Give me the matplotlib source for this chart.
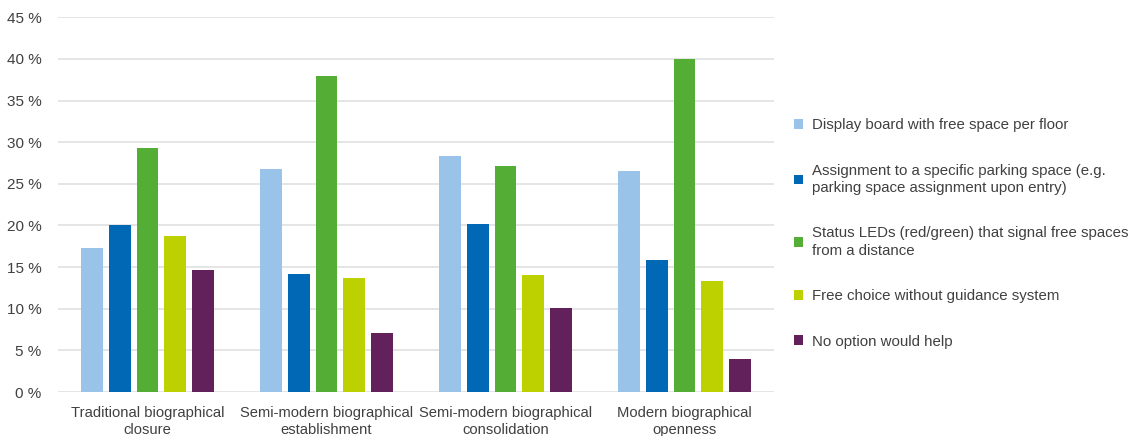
import matplotlib
matplotlib.use("Agg")
import matplotlib.pyplot as plt
import numpy as np
from matplotlib.patches import Patch

plt.rcParams['font.family'] = ['Liberation Sans', 'DejaVu Sans']

categories = ["Traditional biographical\nclosure",
              "Semi-modern biographical\nestablishment",
              "Semi-modern biographical\nconsolidation",
              "Modern biographical\nopenness"]

series_names = ["Display board with free space per floor",
                "Assignment to a specific parking space (e.g.\nparking space assignment upon entry)",
                "Status LEDs (red/green) that signal free spaces\nfrom a distance",
                "Free choice without guidance system",
                "No option would help"]

display_board = [17.3, 26.8, 28.3, 26.6]
assignment = [20.0, 14.2, 20.2, 15.9]
status_leds = [29.3, 38.0, 27.2, 40.0]
free_choice = [18.7, 13.7, 14.1, 13.3]
no_option = [14.6, 7.1, 10.1, 4.0]

yticks = [0, 5, 10, 15, 20, 25, 30, 35, 40, 45]

colors = ["#99C3E8", "#0068B4", "#54AD34", "#BDD100", "#63215B"]
text_color = "#404040"
grid_color = "#DEDEDE"

fig = plt.figure(figsize=(11.36, 4.36), dpi=100)
ax = fig.add_axes([58 / 1136, 1 - 392 / 436, (774 - 58) / 1136, (392 - 17.3) / 436])

all_series = [display_board, assignment, status_leds, free_choice, no_option]
x = np.arange(len(categories))
slot = 0.154
width = 0.122
for i, (vals, col) in enumerate(zip(all_series, colors)):
    ax.bar(x + (i - 2) * slot, vals, width=width, color=col, zorder=3)

ax.set_xlim(-0.5, len(categories) - 0.5)
ax.set_ylim(0, 45)
ax.set_yticks(yticks)
ax.set_yticklabels([f"{t} %" for t in yticks], fontsize=11, color=text_color)
ax.set_xticks(x)
ax.set_xticklabels(categories, fontsize=10.6, color=text_color, linespacing=1.3)
ax.tick_params(axis='both', length=0)
ax.tick_params(axis='y', pad=12)
ax.tick_params(axis='x', pad=10)
ax.yaxis.grid(True, color=grid_color, linewidth=1.1, zorder=0)
for s in ax.spines.values():
    s.set_visible(False)

handles = [Patch(facecolor=c, edgecolor='none') for c in colors]
leg = fig.legend(handles, series_names, loc='upper left',
                 bbox_to_anchor=(794 / 1136, 1 - 118 / 436),
                 frameon=False, fontsize=10.8, labelcolor=text_color,
                 handlelength=0.62, handleheight=0.62, handletextpad=0.55,
                 labelspacing=2.1, borderpad=0, borderaxespad=0)
for t in leg.get_texts():
    t.set_linespacing(1.3)

fig.savefig("out.png", dpi=100)
